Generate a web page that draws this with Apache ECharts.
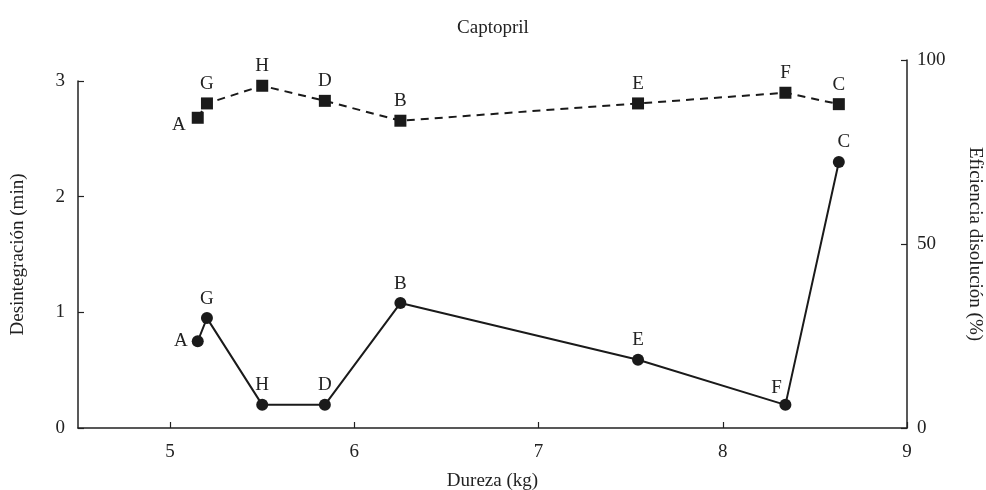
<!DOCTYPE html>
<html><head><meta charset="utf-8">
<script src="https://cdn.jsdelivr.net/npm/echarts@6/dist/echarts.min.js"></script>
<style>html,body{margin:0;padding:0;background:#fff}#c{width:986px;height:490px}</style>
</head><body><div id="c"></div>
<script>
// ---- data ----
const pointNames = ['A','G','H','D','B','E','F','C'];
const hardness = [5.15, 5.2, 5.5, 5.84, 6.25, 7.54, 8.34, 8.63];
const disintegration = [0.75, 0.95, 0.2, 0.2, 1.08, 0.59, 0.2, 2.3];   // min, left axis
const efficiency = [84.3, 88.2, 93.0, 88.9, 83.5, 88.2, 91.1, 88.0];   // %, right axis
const xTicks = [5, 6, 7, 8, 9];
const yLeftTicks = [0, 1, 2, 3];
const yRightTicks = [0, 50, 100];

// ---- style ----
const FONT = 'Liberation Serif';
const INK = '#222';
const circleLabelStyle = {
  A: {position: 'left', offset: [0, 0]},
  F: {position: 'top', offset: [-9, 3]},
  C: {position: 'top', offset: [5, 0]}
};
const squareLabelStyle = {
  A: {position: 'left', offset: [-2, 7]},
  F: {position: 'top', offset: [0, 0]}
};
function mk(vals, styleMap) {
  return vals.map((v, i) => {
    const n = pointNames[i];
    const st = styleMap[n] || {position: 'top', offset: [0, 0]};
    return {value: [hardness[i], v], name: n, label: {position: st.position, offset: st.offset}};
  });
}
const txt = {fontFamily: FONT, fontSize: 19, color: INK};
const axisLine = {show: true, lineStyle: {color: INK, width: 1.5}};

const chart = echarts.init(document.getElementById('c'));
chart.setOption({
  backgroundColor: '#fff',
  animation: false,
  title: {text: 'Captopril', left: 'center', top: 14, textStyle: {fontFamily: FONT, fontSize: 19, fontWeight: 'normal', color: INK}},
  grid: [
    {left: 78, right: 79, top: 81, bottom: 62, outerBoundsMode: 'none', containLabel: false},
    {left: 78, right: 79, top: 60, bottom: 62, outerBoundsMode: 'none', containLabel: false}
  ],
  xAxis: [
    {type: 'value', gridIndex: 0, min: 4.5, max: 9,
     name: 'Dureza (kg)', nameLocation: 'middle', nameGap: 44, nameTextStyle: txt,
     axisLine: axisLine,
     axisTick: {show: true, inside: true, length: 6, lineStyle: {color: INK, width: 1.2}, customValues: xTicks},
     axisLabel: {...txt, margin: 15, customValues: xTicks},
     splitLine: {show: false}},
    {type: 'value', gridIndex: 1, min: 4.5, max: 9, show: false, splitLine: {show: false}}
  ],
  yAxis: [
    {type: 'value', gridIndex: 0, min: 0, max: 3, position: 'left',
     name: 'Desintegración (min)', nameLocation: 'middle', nameGap: 50, nameTextStyle: txt,
     axisLine: axisLine,
     axisTick: {show: true, inside: true, length: 6, lineStyle: {color: INK, width: 1.2}, customValues: yLeftTicks},
     axisLabel: {...txt, margin: 13, customValues: yLeftTicks},
     splitLine: {show: false}},
    {type: 'value', gridIndex: 1, min: 0, max: 100, position: 'right',
     name: 'Eficiencia disolución (%)', nameLocation: 'middle', nameGap: 58, nameRotate: -90, nameTextStyle: txt,
     axisLine: axisLine,
     axisTick: {show: true, inside: true, length: 6, lineStyle: {color: INK, width: 1.2}, customValues: yRightTicks},
     axisLabel: {...txt, margin: 10, customValues: yRightTicks},
     splitLine: {show: false}}
  ],
  series: [
    {type: 'line', xAxisIndex: 0, yAxisIndex: 0, data: mk(disintegration, circleLabelStyle),
     symbol: 'circle', symbolSize: 12,
     itemStyle: {color: '#1a1a1a'}, lineStyle: {color: '#1a1a1a', width: 2},
     label: {show: true, formatter: p => p.name, ...txt, distance: 4}},
    {type: 'line', xAxisIndex: 1, yAxisIndex: 1, data: mk(efficiency, squareLabelStyle),
     symbol: 'rect', symbolSize: 12,
     itemStyle: {color: '#1a1a1a'}, lineStyle: {color: '#1a1a1a', width: 2, type: [8, 6]},
     label: {show: true, formatter: p => p.name, ...txt, distance: 4}}
  ]
});
</script></body></html>
